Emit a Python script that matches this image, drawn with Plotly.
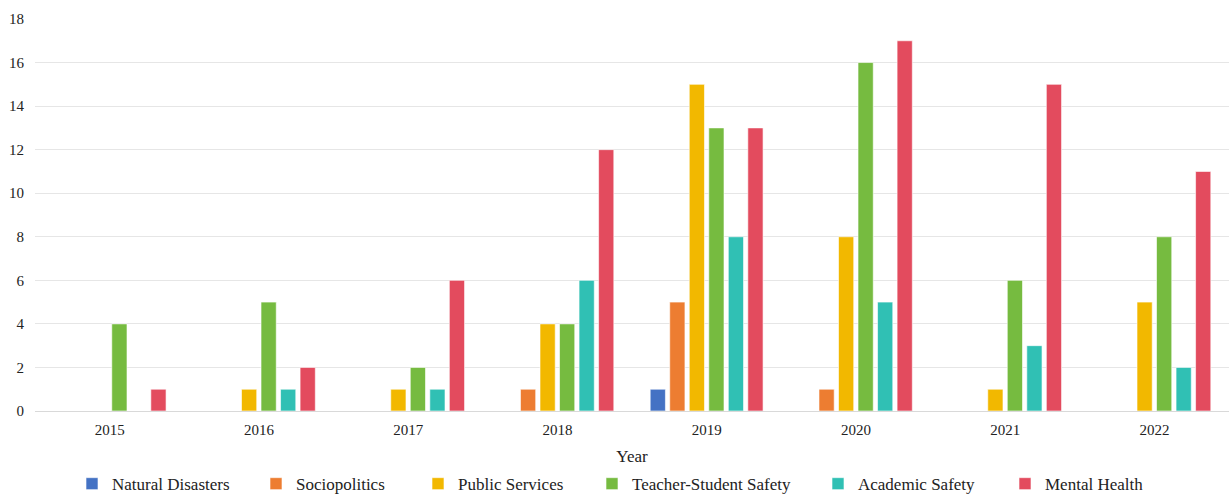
import plotly.graph_objects as go

years = ["2015", "2016", "2017", "2018", "2019", "2020", "2021", "2022"]

natural_disasters = [0, 0, 0, 0, 1, 0, 0, 0]
sociopolitics = [0, 0, 0, 1, 5, 1, 0, 0]
public_services = [0, 1, 1, 4, 15, 8, 1, 5]
teacher_student_safety = [4, 5, 2, 4, 13, 16, 6, 8]
academic_safety = [0, 1, 1, 6, 8, 5, 3, 2]
mental_health = [1, 2, 6, 12, 13, 17, 15, 11]

series = [
    ("Natural Disasters", natural_disasters, "#4472C4"),
    ("Sociopolitics", sociopolitics, "#ED7D31"),
    ("Public Services", public_services, "#F2B800"),
    ("Teacher-Student Safety", teacher_student_safety, "#76BB40"),
    ("Academic Safety", academic_safety, "#30C0B4"),
    ("Mental Health", mental_health, "#E34B5E"),
]

# left edge (px) of each legend entry's text along the bottom row
legend_text_px = [112, 296, 458, 632, 858, 1045]

FONT = "Liberation Serif, Times New Roman, serif"
PLOT_LEFT, PLOT_WIDTH = 35, 1194

fig = go.Figure()
legend_layouts = {}
for i, (name, values, color) in enumerate(series):
    key = "legend" if i == 0 else f"legend{i + 1}"
    fig.add_trace(go.Bar(
        name=name,
        x=years,
        y=values,
        legend=key,
        showlegend=True,
        marker=dict(color=color, line=dict(color="rgba(255,255,255,0.6)", width=1)),
    ))
    legend_layouts[key] = dict(
        orientation="h",
        x=(legend_text_px[i] - 40 - PLOT_LEFT) / PLOT_WIDTH,
        xanchor="left",
        xref="paper",
        y=0.022,
        yref="container",
        yanchor="middle",
        font=dict(family=FONT, size=17, color="#222222"),
        itemwidth=30,
        bgcolor="rgba(0,0,0,0)",
        borderwidth=0,
    )

fig.update_layout(
    width=1229,
    height=495,
    showlegend=True,
    barmode="group",
    bargap=0.215,
    bargroupgap=0.22,
    plot_bgcolor="white",
    paper_bgcolor="white",
    margin=dict(l=35, r=0, t=19, b=84, autoexpand=False),
    font=dict(family=FONT, size=15, color="#222222"),
    xaxis=dict(
        title=dict(text="Year", font=dict(family=FONT, size=17, color="#222222"), standoff=13),
        automargin=False,
        showline=True,
        linecolor="#d9d9d9",
        linewidth=1,
        ticks="",
        tickfont=dict(family=FONT, size=15),
        ticklabelstandoff=5,
    ),
    yaxis=dict(
        range=[0, 18],
        dtick=2,
        automargin=False,
        showgrid=True,
        gridcolor="#e6e6e6",
        gridwidth=1,
        zeroline=False,
        ticks="",
        tickfont=dict(family=FONT, size=15),
        ticklabelstandoff=10,
    ),
    **legend_layouts,
)

fig.write_html("out.html")
